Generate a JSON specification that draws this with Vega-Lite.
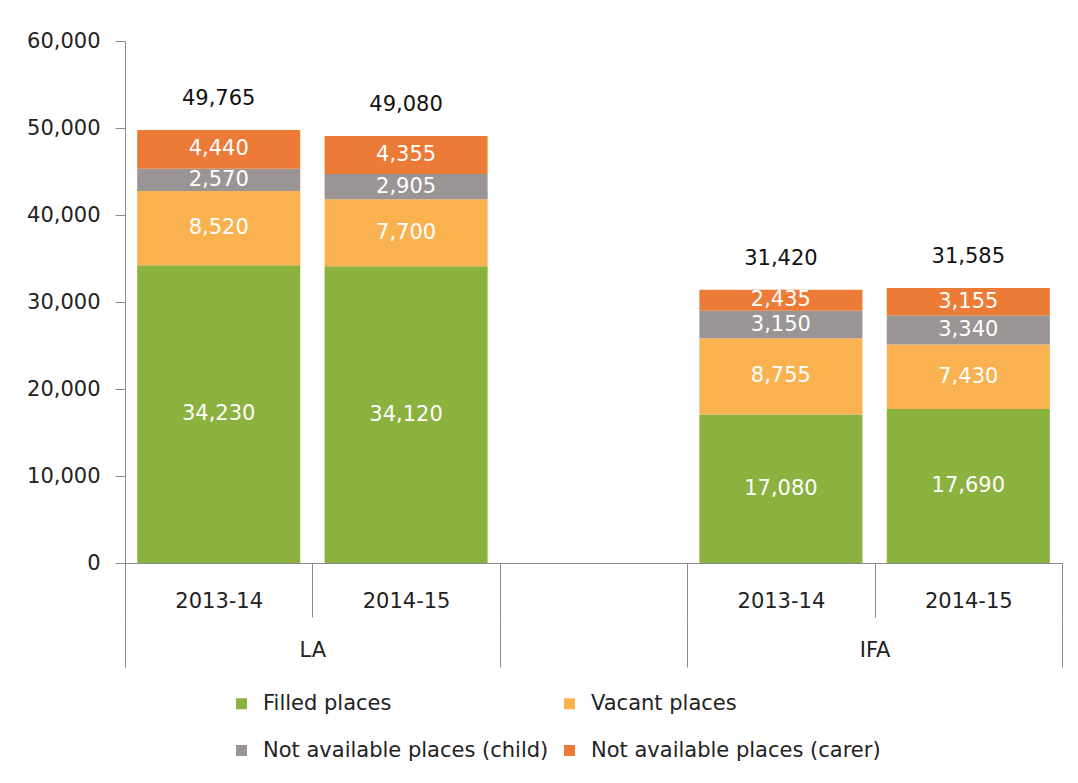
{
  "$schema": "https://vega.github.io/schema/vega-lite/v6.json",
  "width": 937,
  "height": 522,
  "padding": {"left": 26, "top": 30, "right": 10, "bottom": 0},
  "background": "white",
  "config": {"view": {"stroke": null}, "font": "DejaVu Sans"},
  "datasets": {
    "segments": [
      {"slot": "LA|2013-14", "cat": "Filled places", "rank": 1, "value": 34230},
      {"slot": "LA|2013-14", "cat": "Vacant places", "rank": 2, "value": 8520},
      {"slot": "LA|2013-14", "cat": "Not available places (child)", "rank": 3, "value": 2570},
      {"slot": "LA|2013-14", "cat": "Not available places (carer)", "rank": 4, "value": 4440},
      {"slot": "LA|2014-15", "cat": "Filled places", "rank": 1, "value": 34120},
      {"slot": "LA|2014-15", "cat": "Vacant places", "rank": 2, "value": 7700},
      {"slot": "LA|2014-15", "cat": "Not available places (child)", "rank": 3, "value": 2905},
      {"slot": "LA|2014-15", "cat": "Not available places (carer)", "rank": 4, "value": 4355},
      {"slot": "IFA|2013-14", "cat": "Filled places", "rank": 1, "value": 17080},
      {"slot": "IFA|2013-14", "cat": "Vacant places", "rank": 2, "value": 8755},
      {"slot": "IFA|2013-14", "cat": "Not available places (child)", "rank": 3, "value": 3150},
      {"slot": "IFA|2013-14", "cat": "Not available places (carer)", "rank": 4, "value": 2435},
      {"slot": "IFA|2014-15", "cat": "Filled places", "rank": 1, "value": 17690},
      {"slot": "IFA|2014-15", "cat": "Vacant places", "rank": 2, "value": 7430},
      {"slot": "IFA|2014-15", "cat": "Not available places (child)", "rank": 3, "value": 3340},
      {"slot": "IFA|2014-15", "cat": "Not available places (carer)", "rank": 4, "value": 3155}
    ],
    "totals": [
      {"slot": "LA|2013-14", "total": 49765},
      {"slot": "LA|2014-15", "total": 49080},
      {"slot": "IFA|2013-14", "total": 31420},
      {"slot": "IFA|2014-15", "total": 31585}
    ]
  },
  "layer": [
    {
      "data": {"name": "segments"},
      "mark": {"type": "bar", "width": {"band": 0.87}},
      "encoding": {
        "x": {
          "field": "slot", "type": "nominal",
          "scale": {"domain": ["LA|2013-14", "LA|2014-15", "gap", "IFA|2013-14", "IFA|2014-15"], "paddingInner": 0, "paddingOuter": 0},
          "axis": {
            "title": null, "tickBand": "extent", "tickSize": 54, "labelPadding": -27, "labelAngle": 0,
            "labelFontSize": 21, "labelColor": "#222222", "domainColor": "#8c8c8c", "tickColor": "#8c8c8c",
            "labelExpr": "(datum.value === 'LA|2013-14' || datum.value === 'IFA|2013-14') ? '2013-14' : (datum.value === 'LA|2014-15' || datum.value === 'IFA|2014-15') ? '2014-15' : ''"
          }
        },
        "y": {
          "field": "value", "type": "quantitative", "stack": "zero", "title": null,
          "scale": {"domain": [0, 60000]},
          "axis": {
            "values": [0, 10000, 20000, 30000, 40000, 50000, 60000], "format": ",.0f", "tickSize": 10, "labelPadding": 15,
            "labelFontSize": 21, "labelColor": "#222222", "domainColor": "#8c8c8c", "tickColor": "#8c8c8c",
            "grid": false, "minExtent": 99, "maxExtent": 99
          }
        },
        "order": {"field": "rank", "type": "quantitative"},
        "color": {
          "field": "cat", "type": "nominal",
          "scale": {
            "domain": ["Filled places", "Vacant places", "Not available places (child)", "Not available places (carer)"],
            "range": ["#8BB13F", "#F9B24F", "#9A9494", "#EC7B37"]
          },
          "legend": {
            "title": null, "orient": "none", "legendX": 106, "legendY": 652, "direction": "horizontal", "columns": 2,
            "columnPadding": 10, "rowPadding": 25, "symbolType": "square", "symbolSize": 121, "symbolStrokeWidth": 0,
            "labelFontSize": 21, "labelOffset": 11, "labelColor": "#222222", "labelLimit": 400, "padding": 0
          }
        }
      }
    },
    {
      "data": {"name": "segments"},
      "mark": {"type": "text", "fontSize": 21, "baseline": "middle", "color": "#ffffff"},
      "encoding": {
        "x": {"field": "slot", "type": "nominal", "axis": null,
          "scale": {"domain": ["LA|2013-14", "LA|2014-15", "gap", "IFA|2013-14", "IFA|2014-15"], "paddingInner": 0, "paddingOuter": 0}},
        "y": {"field": "value", "type": "quantitative", "stack": "zero", "bandPosition": 0.5, "title": null,
          "scale": {"domain": [0, 60000]},
          "axis": {
            "values": [0, 10000, 20000, 30000, 40000, 50000, 60000], "format": ",.0f", "tickSize": 10, "labelPadding": 15,
            "labelFontSize": 21, "labelColor": "#222222", "domainColor": "#8c8c8c", "tickColor": "#8c8c8c",
            "grid": false, "minExtent": 99, "maxExtent": 99
          }},
        "detail": {"field": "cat", "type": "nominal"},
        "order": {"field": "rank", "type": "quantitative"},
        "text": {"field": "value", "type": "quantitative", "format": ","}
      }
    },
    {
      "data": {"name": "totals"},
      "mark": {"type": "text", "fontSize": 21, "baseline": "middle", "dy": -31, "color": "#111111"},
      "encoding": {
        "x": {
          "field": "slot", "type": "nominal",
          "scale": {"domain": ["LA|2013-14", "LA|2014-15", "gap", "IFA|2013-14", "IFA|2014-15"], "paddingInner": 0, "paddingOuter": 0},
          "axis": {
            "title": null, "orient": "bottom", "offset": 54, "domain": false, "tickBand": "extent", "tickSize": 50,
            "labelPadding": -27.5, "labelOffset": 93.7, "labelAngle": 0, "labelFontSize": 21, "labelColor": "#222222",
            "tickColor": "#8c8c8c",
            "tickOpacity": {"condition": {"test": "datum.value === 'LA|2013-14' || datum.value === 'IFA|2013-14'", "value": 0}, "value": 1},
            "labelExpr": "datum.value === 'LA|2013-14' ? 'LA' : datum.value === 'IFA|2013-14' ? 'IFA' : ''"
          }
        },
        "y": {"field": "total", "type": "quantitative", "title": null,
          "scale": {"domain": [0, 60000]},
          "axis": {
            "values": [0, 10000, 20000, 30000, 40000, 50000, 60000], "format": ",.0f", "tickSize": 10, "labelPadding": 15,
            "labelFontSize": 21, "labelColor": "#222222", "domainColor": "#8c8c8c", "tickColor": "#8c8c8c",
            "grid": false, "minExtent": 99, "maxExtent": 99
          }},
        "text": {"field": "total", "type": "quantitative", "format": ","}
      }
    }
  ],
  "resolve": {"axis": {"x": "independent"}}
}
